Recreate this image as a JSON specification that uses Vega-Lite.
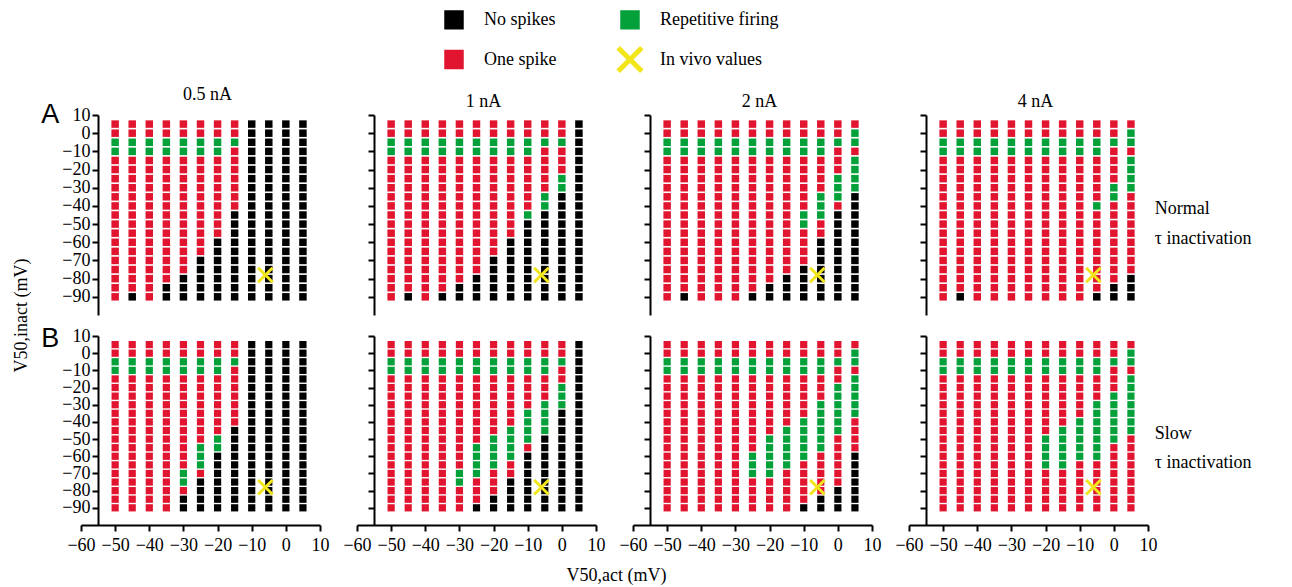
{
  "$schema": "https://vega.github.io/schema/vega-lite/v6.json",
  "background": "white",
  "padding": {"left": 12, "top": 9, "right": 5, "bottom": 5},
  "bounds": "flush",
  "columns": 4,
  "spacing": {"row": 21, "column": 37},
  "datasets": {
    "vivo": [{"x": -6, "y": -78, "s": "V"}],
    "grid": [
{"x":-50,"y":5,"a":"R","b":"R","c":"R","d":"R","e":"R","f":"R","g":"R","h":"R"},
{"x":-50,"y":0,"a":"R","b":"R","c":"R","d":"R","e":"R","f":"R","g":"R","h":"R"},
{"x":-50,"y":-5,"a":"G","b":"G","c":"G","d":"G","e":"G","f":"G","g":"G","h":"G"},
{"x":-50,"y":-10,"a":"G","b":"G","c":"G","d":"G","e":"G","f":"G","g":"G","h":"G"},
{"x":-50,"y":-15,"a":"R","b":"R","c":"R","d":"R","e":"R","f":"R","g":"R","h":"R"},
{"x":-50,"y":-20,"a":"R","b":"R","c":"R","d":"R","e":"R","f":"R","g":"R","h":"R"},
{"x":-50,"y":-25,"a":"R","b":"R","c":"R","d":"R","e":"R","f":"R","g":"R","h":"R"},
{"x":-50,"y":-30,"a":"R","b":"R","c":"R","d":"R","e":"R","f":"R","g":"R","h":"R"},
{"x":-50,"y":-35,"a":"R","b":"R","c":"R","d":"R","e":"R","f":"R","g":"R","h":"R"},
{"x":-50,"y":-40,"a":"R","b":"R","c":"R","d":"R","e":"R","f":"R","g":"R","h":"R"},
{"x":-50,"y":-45,"a":"R","b":"R","c":"R","d":"R","e":"R","f":"R","g":"R","h":"R"},
{"x":-50,"y":-50,"a":"R","b":"R","c":"R","d":"R","e":"R","f":"R","g":"R","h":"R"},
{"x":-50,"y":-55,"a":"R","b":"R","c":"R","d":"R","e":"R","f":"R","g":"R","h":"R"},
{"x":-50,"y":-60,"a":"R","b":"R","c":"R","d":"R","e":"R","f":"R","g":"R","h":"R"},
{"x":-50,"y":-65,"a":"R","b":"R","c":"R","d":"R","e":"R","f":"R","g":"R","h":"R"},
{"x":-50,"y":-70,"a":"R","b":"R","c":"R","d":"R","e":"R","f":"R","g":"R","h":"R"},
{"x":-50,"y":-75,"a":"R","b":"R","c":"R","d":"R","e":"R","f":"R","g":"R","h":"R"},
{"x":-50,"y":-80,"a":"R","b":"R","c":"R","d":"R","e":"R","f":"R","g":"R","h":"R"},
{"x":-50,"y":-85,"a":"R","b":"R","c":"R","d":"R","e":"R","f":"R","g":"R","h":"R"},
{"x":-50,"y":-90,"a":"R","b":"R","c":"R","d":"R","e":"R","f":"R","g":"R","h":"R"},
{"x":-45,"y":5,"a":"R","b":"R","c":"R","d":"R","e":"R","f":"R","g":"R","h":"R"},
{"x":-45,"y":0,"a":"R","b":"R","c":"R","d":"R","e":"R","f":"R","g":"R","h":"R"},
{"x":-45,"y":-5,"a":"G","b":"G","c":"G","d":"G","e":"G","f":"G","g":"G","h":"G"},
{"x":-45,"y":-10,"a":"G","b":"G","c":"G","d":"G","e":"G","f":"G","g":"G","h":"G"},
{"x":-45,"y":-15,"a":"R","b":"R","c":"R","d":"R","e":"R","f":"R","g":"R","h":"R"},
{"x":-45,"y":-20,"a":"R","b":"R","c":"R","d":"R","e":"R","f":"R","g":"R","h":"R"},
{"x":-45,"y":-25,"a":"R","b":"R","c":"R","d":"R","e":"R","f":"R","g":"R","h":"R"},
{"x":-45,"y":-30,"a":"R","b":"R","c":"R","d":"R","e":"R","f":"R","g":"R","h":"R"},
{"x":-45,"y":-35,"a":"R","b":"R","c":"R","d":"R","e":"R","f":"R","g":"R","h":"R"},
{"x":-45,"y":-40,"a":"R","b":"R","c":"R","d":"R","e":"R","f":"R","g":"R","h":"R"},
{"x":-45,"y":-45,"a":"R","b":"R","c":"R","d":"R","e":"R","f":"R","g":"R","h":"R"},
{"x":-45,"y":-50,"a":"R","b":"R","c":"R","d":"R","e":"R","f":"R","g":"R","h":"R"},
{"x":-45,"y":-55,"a":"R","b":"R","c":"R","d":"R","e":"R","f":"R","g":"R","h":"R"},
{"x":-45,"y":-60,"a":"R","b":"R","c":"R","d":"R","e":"R","f":"R","g":"R","h":"R"},
{"x":-45,"y":-65,"a":"R","b":"R","c":"R","d":"R","e":"R","f":"R","g":"R","h":"R"},
{"x":-45,"y":-70,"a":"R","b":"R","c":"R","d":"R","e":"R","f":"R","g":"R","h":"R"},
{"x":-45,"y":-75,"a":"R","b":"R","c":"R","d":"R","e":"R","f":"R","g":"R","h":"R"},
{"x":-45,"y":-80,"a":"R","b":"R","c":"R","d":"R","e":"R","f":"R","g":"R","h":"R"},
{"x":-45,"y":-85,"a":"R","b":"R","c":"R","d":"R","e":"R","f":"R","g":"R","h":"R"},
{"x":-45,"y":-90,"a":"N","b":"N","c":"N","d":"N","e":"R","f":"R","g":"R","h":"R"},
{"x":-40,"y":5,"a":"R","b":"R","c":"R","d":"R","e":"R","f":"R","g":"R","h":"R"},
{"x":-40,"y":0,"a":"R","b":"R","c":"R","d":"R","e":"R","f":"R","g":"R","h":"R"},
{"x":-40,"y":-5,"a":"G","b":"G","c":"G","d":"G","e":"G","f":"G","g":"G","h":"G"},
{"x":-40,"y":-10,"a":"G","b":"G","c":"G","d":"G","e":"G","f":"G","g":"G","h":"G"},
{"x":-40,"y":-15,"a":"R","b":"R","c":"R","d":"R","e":"R","f":"R","g":"R","h":"R"},
{"x":-40,"y":-20,"a":"R","b":"R","c":"R","d":"R","e":"R","f":"R","g":"R","h":"R"},
{"x":-40,"y":-25,"a":"R","b":"R","c":"R","d":"R","e":"R","f":"R","g":"R","h":"R"},
{"x":-40,"y":-30,"a":"R","b":"R","c":"R","d":"R","e":"R","f":"R","g":"R","h":"R"},
{"x":-40,"y":-35,"a":"R","b":"R","c":"R","d":"R","e":"R","f":"R","g":"R","h":"R"},
{"x":-40,"y":-40,"a":"R","b":"R","c":"R","d":"R","e":"R","f":"R","g":"R","h":"R"},
{"x":-40,"y":-45,"a":"R","b":"R","c":"R","d":"R","e":"R","f":"R","g":"R","h":"R"},
{"x":-40,"y":-50,"a":"R","b":"R","c":"R","d":"R","e":"R","f":"R","g":"R","h":"R"},
{"x":-40,"y":-55,"a":"R","b":"R","c":"R","d":"R","e":"R","f":"R","g":"R","h":"R"},
{"x":-40,"y":-60,"a":"R","b":"R","c":"R","d":"R","e":"R","f":"R","g":"R","h":"R"},
{"x":-40,"y":-65,"a":"R","b":"R","c":"R","d":"R","e":"R","f":"R","g":"R","h":"R"},
{"x":-40,"y":-70,"a":"R","b":"R","c":"R","d":"R","e":"R","f":"R","g":"R","h":"R"},
{"x":-40,"y":-75,"a":"R","b":"R","c":"R","d":"R","e":"R","f":"R","g":"R","h":"R"},
{"x":-40,"y":-80,"a":"R","b":"R","c":"R","d":"R","e":"R","f":"R","g":"R","h":"R"},
{"x":-40,"y":-85,"a":"R","b":"R","c":"R","d":"R","e":"R","f":"R","g":"R","h":"R"},
{"x":-40,"y":-90,"a":"R","b":"R","c":"R","d":"R","e":"R","f":"R","g":"R","h":"R"},
{"x":-35,"y":5,"a":"R","b":"R","c":"R","d":"R","e":"R","f":"R","g":"R","h":"R"},
{"x":-35,"y":0,"a":"R","b":"R","c":"R","d":"R","e":"R","f":"R","g":"R","h":"R"},
{"x":-35,"y":-5,"a":"G","b":"G","c":"G","d":"G","e":"G","f":"G","g":"G","h":"G"},
{"x":-35,"y":-10,"a":"G","b":"G","c":"G","d":"G","e":"G","f":"G","g":"G","h":"G"},
{"x":-35,"y":-15,"a":"R","b":"R","c":"R","d":"R","e":"R","f":"R","g":"R","h":"R"},
{"x":-35,"y":-20,"a":"R","b":"R","c":"R","d":"R","e":"R","f":"R","g":"R","h":"R"},
{"x":-35,"y":-25,"a":"R","b":"R","c":"R","d":"R","e":"R","f":"R","g":"R","h":"R"},
{"x":-35,"y":-30,"a":"R","b":"R","c":"R","d":"R","e":"R","f":"R","g":"R","h":"R"},
{"x":-35,"y":-35,"a":"R","b":"R","c":"R","d":"R","e":"R","f":"R","g":"R","h":"R"},
{"x":-35,"y":-40,"a":"R","b":"R","c":"R","d":"R","e":"R","f":"R","g":"R","h":"R"},
{"x":-35,"y":-45,"a":"R","b":"R","c":"R","d":"R","e":"R","f":"R","g":"R","h":"R"},
{"x":-35,"y":-50,"a":"R","b":"R","c":"R","d":"R","e":"R","f":"R","g":"R","h":"R"},
{"x":-35,"y":-55,"a":"R","b":"R","c":"R","d":"R","e":"R","f":"R","g":"R","h":"R"},
{"x":-35,"y":-60,"a":"R","b":"R","c":"R","d":"R","e":"R","f":"R","g":"R","h":"R"},
{"x":-35,"y":-65,"a":"R","b":"R","c":"R","d":"R","e":"R","f":"R","g":"R","h":"R"},
{"x":-35,"y":-70,"a":"R","b":"R","c":"R","d":"R","e":"R","f":"R","g":"R","h":"R"},
{"x":-35,"y":-75,"a":"R","b":"R","c":"R","d":"R","e":"R","f":"R","g":"R","h":"R"},
{"x":-35,"y":-80,"a":"R","b":"R","c":"R","d":"R","e":"R","f":"R","g":"R","h":"R"},
{"x":-35,"y":-85,"a":"N","b":"R","c":"R","d":"R","e":"R","f":"R","g":"R","h":"R"},
{"x":-35,"y":-90,"a":"N","b":"N","c":"R","d":"R","e":"R","f":"R","g":"R","h":"R"},
{"x":-30,"y":5,"a":"R","b":"R","c":"R","d":"R","e":"R","f":"R","g":"R","h":"R"},
{"x":-30,"y":0,"a":"R","b":"R","c":"R","d":"R","e":"R","f":"R","g":"R","h":"R"},
{"x":-30,"y":-5,"a":"G","b":"G","c":"G","d":"G","e":"G","f":"G","g":"G","h":"G"},
{"x":-30,"y":-10,"a":"G","b":"G","c":"G","d":"G","e":"G","f":"G","g":"G","h":"G"},
{"x":-30,"y":-15,"a":"R","b":"R","c":"R","d":"R","e":"R","f":"R","g":"R","h":"R"},
{"x":-30,"y":-20,"a":"R","b":"R","c":"R","d":"R","e":"R","f":"R","g":"R","h":"R"},
{"x":-30,"y":-25,"a":"R","b":"R","c":"R","d":"R","e":"R","f":"R","g":"R","h":"R"},
{"x":-30,"y":-30,"a":"R","b":"R","c":"R","d":"R","e":"R","f":"R","g":"R","h":"R"},
{"x":-30,"y":-35,"a":"R","b":"R","c":"R","d":"R","e":"R","f":"R","g":"R","h":"R"},
{"x":-30,"y":-40,"a":"R","b":"R","c":"R","d":"R","e":"R","f":"R","g":"R","h":"R"},
{"x":-30,"y":-45,"a":"R","b":"R","c":"R","d":"R","e":"R","f":"R","g":"R","h":"R"},
{"x":-30,"y":-50,"a":"R","b":"R","c":"R","d":"R","e":"R","f":"R","g":"R","h":"R"},
{"x":-30,"y":-55,"a":"R","b":"R","c":"R","d":"R","e":"R","f":"R","g":"R","h":"R"},
{"x":-30,"y":-60,"a":"R","b":"R","c":"R","d":"R","e":"R","f":"R","g":"R","h":"R"},
{"x":-30,"y":-65,"a":"R","b":"R","c":"R","d":"R","e":"R","f":"R","g":"R","h":"R"},
{"x":-30,"y":-70,"a":"R","b":"R","c":"R","d":"R","e":"G","f":"G","g":"R","h":"R"},
{"x":-30,"y":-75,"a":"R","b":"R","c":"R","d":"R","e":"G","f":"G","g":"R","h":"R"},
{"x":-30,"y":-80,"a":"N","b":"R","c":"R","d":"R","e":"R","f":"R","g":"R","h":"R"},
{"x":-30,"y":-85,"a":"N","b":"N","c":"R","d":"R","e":"N","f":"R","g":"R","h":"R"},
{"x":-30,"y":-90,"a":"N","b":"N","c":"R","d":"R","e":"N","f":"R","g":"R","h":"R"},
{"x":-25,"y":5,"a":"R","b":"R","c":"R","d":"R","e":"R","f":"R","g":"R","h":"R"},
{"x":-25,"y":0,"a":"R","b":"R","c":"R","d":"R","e":"R","f":"R","g":"R","h":"R"},
{"x":-25,"y":-5,"a":"G","b":"G","c":"G","d":"G","e":"G","f":"G","g":"G","h":"G"},
{"x":-25,"y":-10,"a":"G","b":"G","c":"G","d":"G","e":"G","f":"G","g":"G","h":"G"},
{"x":-25,"y":-15,"a":"R","b":"R","c":"R","d":"R","e":"R","f":"R","g":"R","h":"R"},
{"x":-25,"y":-20,"a":"R","b":"R","c":"R","d":"R","e":"R","f":"R","g":"R","h":"R"},
{"x":-25,"y":-25,"a":"R","b":"R","c":"R","d":"R","e":"R","f":"R","g":"R","h":"R"},
{"x":-25,"y":-30,"a":"R","b":"R","c":"R","d":"R","e":"R","f":"R","g":"R","h":"R"},
{"x":-25,"y":-35,"a":"R","b":"R","c":"R","d":"R","e":"R","f":"R","g":"R","h":"R"},
{"x":-25,"y":-40,"a":"R","b":"R","c":"R","d":"R","e":"R","f":"R","g":"R","h":"R"},
{"x":-25,"y":-45,"a":"R","b":"R","c":"R","d":"R","e":"R","f":"R","g":"R","h":"R"},
{"x":-25,"y":-50,"a":"R","b":"R","c":"R","d":"R","e":"R","f":"R","g":"R","h":"R"},
{"x":-25,"y":-55,"a":"R","b":"R","c":"R","d":"R","e":"G","f":"G","g":"R","h":"R"},
{"x":-25,"y":-60,"a":"R","b":"R","c":"R","d":"R","e":"G","f":"G","g":"G","h":"R"},
{"x":-25,"y":-65,"a":"R","b":"R","c":"R","d":"R","e":"G","f":"G","g":"G","h":"R"},
{"x":-25,"y":-70,"a":"N","b":"R","c":"R","d":"R","e":"R","f":"G","g":"G","h":"R"},
{"x":-25,"y":-75,"a":"N","b":"R","c":"R","d":"R","e":"N","f":"R","g":"R","h":"R"},
{"x":-25,"y":-80,"a":"N","b":"N","c":"R","d":"R","e":"N","f":"R","g":"R","h":"R"},
{"x":-25,"y":-85,"a":"N","b":"N","c":"R","d":"R","e":"N","f":"R","g":"R","h":"R"},
{"x":-25,"y":-90,"a":"N","b":"N","c":"N","d":"R","e":"N","f":"N","g":"R","h":"R"},
{"x":-20,"y":5,"a":"R","b":"R","c":"R","d":"R","e":"R","f":"R","g":"R","h":"R"},
{"x":-20,"y":0,"a":"R","b":"R","c":"R","d":"R","e":"R","f":"R","g":"R","h":"R"},
{"x":-20,"y":-5,"a":"G","b":"G","c":"G","d":"G","e":"G","f":"G","g":"G","h":"G"},
{"x":-20,"y":-10,"a":"G","b":"G","c":"G","d":"G","e":"G","f":"G","g":"G","h":"G"},
{"x":-20,"y":-15,"a":"R","b":"R","c":"R","d":"R","e":"R","f":"R","g":"R","h":"R"},
{"x":-20,"y":-20,"a":"R","b":"R","c":"R","d":"R","e":"R","f":"R","g":"R","h":"R"},
{"x":-20,"y":-25,"a":"R","b":"R","c":"R","d":"R","e":"R","f":"R","g":"R","h":"R"},
{"x":-20,"y":-30,"a":"R","b":"R","c":"R","d":"R","e":"R","f":"R","g":"R","h":"R"},
{"x":-20,"y":-35,"a":"R","b":"R","c":"R","d":"R","e":"R","f":"R","g":"R","h":"R"},
{"x":-20,"y":-40,"a":"R","b":"R","c":"R","d":"R","e":"R","f":"R","g":"R","h":"R"},
{"x":-20,"y":-45,"a":"R","b":"R","c":"R","d":"R","e":"R","f":"R","g":"R","h":"R"},
{"x":-20,"y":-50,"a":"R","b":"R","c":"R","d":"R","e":"G","f":"G","g":"G","h":"G"},
{"x":-20,"y":-55,"a":"R","b":"R","c":"R","d":"R","e":"G","f":"G","g":"G","h":"G"},
{"x":-20,"y":-60,"a":"N","b":"R","c":"R","d":"R","e":"N","f":"G","g":"G","h":"G"},
{"x":-20,"y":-65,"a":"N","b":"R","c":"R","d":"R","e":"N","f":"G","g":"G","h":"G"},
{"x":-20,"y":-70,"a":"N","b":"N","c":"R","d":"R","e":"N","f":"R","g":"G","h":"R"},
{"x":-20,"y":-75,"a":"N","b":"N","c":"R","d":"R","e":"N","f":"R","g":"R","h":"R"},
{"x":-20,"y":-80,"a":"N","b":"N","c":"R","d":"R","e":"N","f":"R","g":"R","h":"R"},
{"x":-20,"y":-85,"a":"N","b":"N","c":"N","d":"R","e":"N","f":"N","g":"R","h":"R"},
{"x":-20,"y":-90,"a":"N","b":"N","c":"N","d":"R","e":"N","f":"N","g":"R","h":"R"},
{"x":-15,"y":5,"a":"R","b":"R","c":"R","d":"R","e":"R","f":"R","g":"R","h":"R"},
{"x":-15,"y":0,"a":"R","b":"R","c":"R","d":"R","e":"R","f":"R","g":"R","h":"R"},
{"x":-15,"y":-5,"a":"G","b":"G","c":"G","d":"G","e":"G","f":"G","g":"G","h":"G"},
{"x":-15,"y":-10,"a":"R","b":"G","c":"G","d":"G","e":"R","f":"G","g":"G","h":"G"},
{"x":-15,"y":-15,"a":"R","b":"R","c":"R","d":"R","e":"R","f":"R","g":"R","h":"R"},
{"x":-15,"y":-20,"a":"R","b":"R","c":"R","d":"R","e":"R","f":"R","g":"R","h":"R"},
{"x":-15,"y":-25,"a":"R","b":"R","c":"R","d":"R","e":"R","f":"R","g":"R","h":"R"},
{"x":-15,"y":-30,"a":"R","b":"R","c":"R","d":"R","e":"R","f":"R","g":"R","h":"R"},
{"x":-15,"y":-35,"a":"R","b":"R","c":"R","d":"R","e":"R","f":"R","g":"R","h":"R"},
{"x":-15,"y":-40,"a":"R","b":"R","c":"R","d":"R","e":"R","f":"R","g":"R","h":"R"},
{"x":-15,"y":-45,"a":"N","b":"R","c":"R","d":"R","e":"N","f":"G","g":"G","h":"G"},
{"x":-15,"y":-50,"a":"N","b":"R","c":"R","d":"R","e":"N","f":"G","g":"G","h":"G"},
{"x":-15,"y":-55,"a":"N","b":"R","c":"R","d":"R","e":"N","f":"G","g":"G","h":"G"},
{"x":-15,"y":-60,"a":"N","b":"N","c":"R","d":"R","e":"N","f":"G","g":"G","h":"G"},
{"x":-15,"y":-65,"a":"N","b":"N","c":"R","d":"R","e":"N","f":"R","g":"G","h":"G"},
{"x":-15,"y":-70,"a":"N","b":"N","c":"R","d":"R","e":"N","f":"R","g":"R","h":"R"},
{"x":-15,"y":-75,"a":"N","b":"N","c":"R","d":"R","e":"N","f":"N","g":"R","h":"R"},
{"x":-15,"y":-80,"a":"N","b":"N","c":"N","d":"R","e":"N","f":"N","g":"R","h":"R"},
{"x":-15,"y":-85,"a":"N","b":"N","c":"N","d":"R","e":"N","f":"N","g":"R","h":"R"},
{"x":-15,"y":-90,"a":"N","b":"N","c":"N","d":"R","e":"N","f":"N","g":"R","h":"R"},
{"x":-10,"y":5,"a":"N","b":"R","c":"R","d":"R","e":"N","f":"R","g":"R","h":"R"},
{"x":-10,"y":0,"a":"N","b":"R","c":"R","d":"R","e":"N","f":"R","g":"R","h":"R"},
{"x":-10,"y":-5,"a":"N","b":"G","c":"G","d":"G","e":"N","f":"G","g":"G","h":"G"},
{"x":-10,"y":-10,"a":"N","b":"G","c":"G","d":"G","e":"N","f":"G","g":"G","h":"G"},
{"x":-10,"y":-15,"a":"N","b":"R","c":"R","d":"R","e":"N","f":"R","g":"R","h":"R"},
{"x":-10,"y":-20,"a":"N","b":"R","c":"R","d":"R","e":"N","f":"R","g":"R","h":"R"},
{"x":-10,"y":-25,"a":"N","b":"R","c":"R","d":"R","e":"N","f":"R","g":"R","h":"R"},
{"x":-10,"y":-30,"a":"N","b":"R","c":"R","d":"R","e":"N","f":"R","g":"R","h":"R"},
{"x":-10,"y":-35,"a":"N","b":"R","c":"R","d":"R","e":"N","f":"G","g":"R","h":"R"},
{"x":-10,"y":-40,"a":"N","b":"R","c":"R","d":"R","e":"N","f":"G","g":"G","h":"G"},
{"x":-10,"y":-45,"a":"N","b":"G","c":"G","d":"R","e":"N","f":"G","g":"G","h":"G"},
{"x":-10,"y":-50,"a":"N","b":"N","c":"G","d":"R","e":"N","f":"G","g":"G","h":"G"},
{"x":-10,"y":-55,"a":"N","b":"N","c":"R","d":"R","e":"N","f":"R","g":"G","h":"G"},
{"x":-10,"y":-60,"a":"N","b":"N","c":"R","d":"R","e":"N","f":"N","g":"G","h":"G"},
{"x":-10,"y":-65,"a":"N","b":"N","c":"R","d":"R","e":"N","f":"N","g":"R","h":"R"},
{"x":-10,"y":-70,"a":"N","b":"N","c":"R","d":"R","e":"N","f":"N","g":"R","h":"R"},
{"x":-10,"y":-75,"a":"N","b":"N","c":"N","d":"R","e":"N","f":"N","g":"R","h":"R"},
{"x":-10,"y":-80,"a":"N","b":"N","c":"N","d":"R","e":"N","f":"N","g":"R","h":"R"},
{"x":-10,"y":-85,"a":"N","b":"N","c":"N","d":"R","e":"N","f":"N","g":"R","h":"R"},
{"x":-10,"y":-90,"a":"N","b":"N","c":"N","d":"R","e":"N","f":"N","g":"N","h":"R"},
{"x":-5,"y":5,"a":"N","b":"R","c":"R","d":"R","e":"N","f":"R","g":"R","h":"R"},
{"x":-5,"y":0,"a":"N","b":"R","c":"R","d":"R","e":"N","f":"R","g":"R","h":"R"},
{"x":-5,"y":-5,"a":"N","b":"G","c":"G","d":"G","e":"N","f":"G","g":"G","h":"G"},
{"x":-5,"y":-10,"a":"N","b":"R","c":"G","d":"G","e":"N","f":"G","g":"G","h":"G"},
{"x":-5,"y":-15,"a":"N","b":"R","c":"R","d":"R","e":"N","f":"R","g":"R","h":"R"},
{"x":-5,"y":-20,"a":"N","b":"R","c":"R","d":"R","e":"N","f":"R","g":"R","h":"R"},
{"x":-5,"y":-25,"a":"N","b":"R","c":"R","d":"R","e":"N","f":"R","g":"R","h":"R"},
{"x":-5,"y":-30,"a":"N","b":"R","c":"R","d":"R","e":"N","f":"G","g":"G","h":"G"},
{"x":-5,"y":-35,"a":"N","b":"G","c":"G","d":"R","e":"N","f":"G","g":"G","h":"G"},
{"x":-5,"y":-40,"a":"N","b":"G","c":"G","d":"G","e":"N","f":"G","g":"G","h":"G"},
{"x":-5,"y":-45,"a":"N","b":"N","c":"G","d":"R","e":"N","f":"G","g":"G","h":"G"},
{"x":-5,"y":-50,"a":"N","b":"N","c":"R","d":"R","e":"N","f":"N","g":"G","h":"G"},
{"x":-5,"y":-55,"a":"N","b":"N","c":"R","d":"R","e":"N","f":"N","g":"G","h":"G"},
{"x":-5,"y":-60,"a":"N","b":"N","c":"N","d":"R","e":"N","f":"N","g":"R","h":"G"},
{"x":-5,"y":-65,"a":"N","b":"N","c":"N","d":"R","e":"N","f":"N","g":"R","h":"R"},
{"x":-5,"y":-70,"a":"N","b":"N","c":"N","d":"R","e":"N","f":"N","g":"R","h":"R"},
{"x":-5,"y":-75,"a":"N","b":"N","c":"N","d":"R","e":"N","f":"N","g":"R","h":"R"},
{"x":-5,"y":-80,"a":"N","b":"N","c":"N","d":"R","e":"N","f":"N","g":"R","h":"R"},
{"x":-5,"y":-85,"a":"N","b":"N","c":"N","d":"R","e":"N","f":"N","g":"N","h":"R"},
{"x":-5,"y":-90,"a":"N","b":"N","c":"N","d":"N","e":"N","f":"N","g":"N","h":"R"},
{"x":0,"y":5,"a":"N","b":"R","c":"R","d":"R","e":"N","f":"R","g":"R","h":"R"},
{"x":0,"y":0,"a":"N","b":"R","c":"R","d":"R","e":"N","f":"R","g":"R","h":"R"},
{"x":0,"y":-5,"a":"N","b":"G","c":"G","d":"G","e":"N","f":"G","g":"G","h":"G"},
{"x":0,"y":-10,"a":"N","b":"R","c":"R","d":"R","e":"N","f":"R","g":"R","h":"R"},
{"x":0,"y":-15,"a":"N","b":"R","c":"R","d":"R","e":"N","f":"R","g":"R","h":"R"},
{"x":0,"y":-20,"a":"N","b":"R","c":"R","d":"R","e":"N","f":"G","g":"G","h":"R"},
{"x":0,"y":-25,"a":"N","b":"G","c":"G","d":"R","e":"N","f":"G","g":"G","h":"G"},
{"x":0,"y":-30,"a":"N","b":"G","c":"G","d":"G","e":"N","f":"G","g":"G","h":"G"},
{"x":0,"y":-35,"a":"N","b":"N","c":"G","d":"G","e":"N","f":"N","g":"G","h":"G"},
{"x":0,"y":-40,"a":"N","b":"N","c":"R","d":"R","e":"N","f":"N","g":"G","h":"G"},
{"x":0,"y":-45,"a":"N","b":"N","c":"N","d":"R","e":"N","f":"N","g":"G","h":"G"},
{"x":0,"y":-50,"a":"N","b":"N","c":"N","d":"R","e":"N","f":"N","g":"R","h":"G"},
{"x":0,"y":-55,"a":"N","b":"N","c":"N","d":"R","e":"N","f":"N","g":"R","h":"R"},
{"x":0,"y":-60,"a":"N","b":"N","c":"N","d":"R","e":"N","f":"N","g":"R","h":"R"},
{"x":0,"y":-65,"a":"N","b":"N","c":"N","d":"R","e":"N","f":"N","g":"R","h":"R"},
{"x":0,"y":-70,"a":"N","b":"N","c":"N","d":"R","e":"N","f":"N","g":"R","h":"R"},
{"x":0,"y":-75,"a":"N","b":"N","c":"N","d":"R","e":"N","f":"N","g":"R","h":"R"},
{"x":0,"y":-80,"a":"N","b":"N","c":"N","d":"R","e":"N","f":"N","g":"N","h":"R"},
{"x":0,"y":-85,"a":"N","b":"N","c":"N","d":"N","e":"N","f":"N","g":"N","h":"R"},
{"x":0,"y":-90,"a":"N","b":"N","c":"N","d":"N","e":"N","f":"N","g":"N","h":"R"},
{"x":5,"y":5,"a":"N","b":"N","c":"R","d":"R","e":"N","f":"N","g":"R","h":"R"},
{"x":5,"y":0,"a":"N","b":"N","c":"G","d":"G","e":"N","f":"N","g":"G","h":"G"},
{"x":5,"y":-5,"a":"N","b":"N","c":"G","d":"G","e":"N","f":"N","g":"G","h":"G"},
{"x":5,"y":-10,"a":"N","b":"N","c":"R","d":"R","e":"N","f":"N","g":"R","h":"R"},
{"x":5,"y":-15,"a":"N","b":"N","c":"G","d":"G","e":"N","f":"N","g":"G","h":"G"},
{"x":5,"y":-20,"a":"N","b":"N","c":"G","d":"G","e":"N","f":"N","g":"G","h":"G"},
{"x":5,"y":-25,"a":"N","b":"N","c":"G","d":"G","e":"N","f":"N","g":"G","h":"G"},
{"x":5,"y":-30,"a":"N","b":"N","c":"G","d":"G","e":"N","f":"N","g":"G","h":"G"},
{"x":5,"y":-35,"a":"N","b":"N","c":"N","d":"R","e":"N","f":"N","g":"G","h":"G"},
{"x":5,"y":-40,"a":"N","b":"N","c":"N","d":"R","e":"N","f":"N","g":"R","h":"G"},
{"x":5,"y":-45,"a":"N","b":"N","c":"N","d":"R","e":"N","f":"N","g":"R","h":"G"},
{"x":5,"y":-50,"a":"N","b":"N","c":"N","d":"R","e":"N","f":"N","g":"R","h":"R"},
{"x":5,"y":-55,"a":"N","b":"N","c":"N","d":"R","e":"N","f":"N","g":"R","h":"R"},
{"x":5,"y":-60,"a":"N","b":"N","c":"N","d":"R","e":"N","f":"N","g":"N","h":"R"},
{"x":5,"y":-65,"a":"N","b":"N","c":"N","d":"R","e":"N","f":"N","g":"N","h":"R"},
{"x":5,"y":-70,"a":"N","b":"N","c":"N","d":"R","e":"N","f":"N","g":"N","h":"R"},
{"x":5,"y":-75,"a":"N","b":"N","c":"N","d":"R","e":"N","f":"N","g":"N","h":"R"},
{"x":5,"y":-80,"a":"N","b":"N","c":"N","d":"N","e":"N","f":"N","g":"N","h":"R"},
{"x":5,"y":-85,"a":"N","b":"N","c":"N","d":"N","e":"N","f":"N","g":"N","h":"R"},
{"x":5,"y":-90,"a":"N","b":"N","c":"N","d":"N","e":"N","f":"N","g":"N","h":"R"}
    ]
  },
  "concat": [
    {
      "width": 239, "height": 200,
      "title": {"text": "0.5 nA", "frame": "group", "dx": 7, "offset": -3},
      "layer": [
        {
          "encoding": {
            "x": {"field": "x", "type": "quantitative", "scale": {"domain": [-60, 10]}, "axis": null},
            "y": {"field": "y", "type": "quantitative", "scale": {"domain": [-100, 10]}, "axis": {"values": [-90, -80, -70, -60, -50, -40, -30, -20, -10, 0, 10], "offset": -17, "labelFlush": false, "labelOverlap": false, "title": "V50,inact (mV)", "titleX": -77, "titleY": 200, "titleAngle": 270, "titleBaseline": "middle", "titleAlign": "center"}}
          },
          "layer": [
            {"data": {"name": "grid"}, "mark": {"type": "square", "size": 56, "opacity": 1},
             "encoding": {"color": {"field": "a", "type": "nominal", "scale": {"domain": ["N", "G", "R", "V"], "range": ["#000000", "#04a13b", "#e1152f", "#f2e51a"]},
               "legend": {"orient": "none", "legendX": 363, "legendY": -105.5, "columns": 2, "direction": "horizontal", "title": null,
                 "labelExpr": "datum.label == 'N' ? 'No spikes' : datum.label == 'G' ? 'Repetitive firing' : datum.label == 'R' ? 'One spike' : 'In vivo values'",
                 "labelFontSize": 18, "labelFont": "Liberation Serif", "labelColor": "black", "symbolSize": 210, "rowPadding": 0, "columnPadding": 51, "labelOffset": 20, "padding": 0,
                 "encoding": {"symbols": {
                   "shape": {"value": {"expr": "datum.value === 'V' ? 'M-1,-1L1,1M1,-1L-1,1' : 'square'"}},
                   "size": {"value": {"expr": "datum.value === 'V' ? 560 : 210"}},
                   "fill": {"value": {"expr": "datum.value === 'V' ? 'transparent' : scale('color', datum.value)"}},
                   "stroke": {"value": {"expr": "datum.value === 'V' ? '#f2e51a' : 'transparent'"}},
                   "strokeWidth": {"value": 5},
                   "opacity": {"value": 1}}}}}}},
            {"data": {"name": "vivo"}, "mark": {"type": "point", "shape": "M-1,-1L1,1M1,-1L-1,1", "size": 210, "strokeWidth": 3, "filled": false, "opacity": 1},
             "encoding": {"color": {"field": "s", "type": "nominal", "legend": null}}}
          ]
        },
        {"data": {"values": [{"t": "A"}]}, "mark": {"type": "text", "font": "Liberation Sans", "fontSize": 27, "align": "center", "baseline": "middle", "color": "black"},
         "encoding": {
           "x": {"datum": -69, "type": "quantitative", "scale": {"domain": [-60, 10]}, "axis": null},
           "y": {"datum": 10, "type": "quantitative", "scale": {"domain": [-100, 10]}, "axis": {"values": [-90, -80, -70, -60, -50, -40, -30, -20, -10, 0, 10], "offset": -17, "labelFlush": false, "labelOverlap": false, "title": "V50,inact (mV)", "titleX": -77, "titleY": 200, "titleAngle": 270, "titleBaseline": "middle", "titleAlign": "center"}},
           "text": {"field": "t", "type": "nominal"}}}
      ]
    },
    {
      "width": 239, "height": 200,
      "title": {"text": "1 nA", "frame": "group", "dx": 7, "offset": 3},
      "encoding": {
        "x": {"field": "x", "type": "quantitative", "scale": {"domain": [-60, 10]}, "axis": null},
        "y": {"field": "y", "type": "quantitative", "scale": {"domain": [-100, 10]}, "axis": {"values": [-90, -80, -70, -60, -50, -40, -30, -20, -10, 0, 10], "offset": -17, "labels": false, "title": null}}
      },
      "layer": [
        {"data": {"name": "grid"}, "mark": {"type": "square", "size": 56, "opacity": 1},
         "encoding": {"color": {"field": "b", "type": "nominal", "legend": null}}},
        {"data": {"name": "vivo"}, "mark": {"type": "point", "shape": "M-1,-1L1,1M1,-1L-1,1", "size": 210, "strokeWidth": 3, "filled": false, "opacity": 1},
         "encoding": {"color": {"field": "s", "type": "nominal", "legend": null}}}
      ]
    },
    {
      "width": 239, "height": 200,
      "title": {"text": "2 nA", "frame": "group", "dx": 7, "offset": 3},
      "encoding": {
        "x": {"field": "x", "type": "quantitative", "scale": {"domain": [-60, 10]}, "axis": null},
        "y": {"field": "y", "type": "quantitative", "scale": {"domain": [-100, 10]}, "axis": {"values": [-90, -80, -70, -60, -50, -40, -30, -20, -10, 0, 10], "offset": -17, "labels": false, "title": null}}
      },
      "layer": [
        {"data": {"name": "grid"}, "mark": {"type": "square", "size": 56, "opacity": 1},
         "encoding": {"color": {"field": "c", "type": "nominal", "legend": null}}},
        {"data": {"name": "vivo"}, "mark": {"type": "point", "shape": "M-1,-1L1,1M1,-1L-1,1", "size": 210, "strokeWidth": 3, "filled": false, "opacity": 1},
         "encoding": {"color": {"field": "s", "type": "nominal", "legend": null}}}
      ]
    },
    {
      "width": 239, "height": 200,
      "title": {"text": "4 nA", "frame": "group", "dx": 7, "offset": 3},
      "layer": [
        {
          "encoding": {
            "x": {"field": "x", "type": "quantitative", "scale": {"domain": [-60, 10]}, "axis": null},
            "y": {"field": "y", "type": "quantitative", "scale": {"domain": [-100, 10]}, "axis": {"values": [-90, -80, -70, -60, -50, -40, -30, -20, -10, 0, 10], "offset": -17, "labels": false, "title": null}}
          },
          "layer": [
            {"data": {"name": "grid"}, "mark": {"type": "square", "size": 56, "opacity": 1},
             "encoding": {"color": {"field": "d", "type": "nominal", "legend": null}}},
            {"data": {"name": "vivo"}, "mark": {"type": "point", "shape": "M-1,-1L1,1M1,-1L-1,1", "size": 210, "strokeWidth": 3, "filled": false, "opacity": 1},
             "encoding": {"color": {"field": "s", "type": "nominal", "legend": null}}}
          ]
        },
        {"data": {"values": [{"t": ["Normal", "τ inactivation"]}]}, "mark": {"type": "text", "font": "Liberation Serif", "fontSize": 18, "align": "left", "baseline": "middle", "lineHeight": 30, "color": "black"},
         "encoding": {
           "x": {"datum": 12, "type": "quantitative", "scale": {"domain": [-60, 10]}, "axis": null},
           "y": {"datum": -41.5, "type": "quantitative", "scale": {"domain": [-100, 10]}, "axis": {"values": [-90, -80, -70, -60, -50, -40, -30, -20, -10, 0, 10], "offset": -17, "labels": false, "title": null}},
           "text": {"field": "t", "type": "nominal"}}}
      ]
    },
    {
      "width": 239, "height": 189,
      "layer": [
        {
          "encoding": {
            "x": {"field": "x", "type": "quantitative", "scale": {"domain": [-60, 10]}, "axis": {"values": [-60, -50, -40, -30, -20, -10, 0, 10], "title": null, "labelOverlap": false, "labelFlush": false, "labelPadding": 5}},
            "y": {"field": "y", "type": "quantitative", "scale": {"domain": [-100, 10]}, "axis": {"values": [-90, -80, -70, -60, -50, -40, -30, -20, -10, 0, 10], "offset": -17, "title": null, "labelOverlap": false, "labelFlush": false}}
          },
          "layer": [
            {"data": {"name": "grid"}, "mark": {"type": "square", "size": 52, "opacity": 1},
             "encoding": {"color": {"field": "e", "type": "nominal", "legend": null}}},
            {"data": {"name": "vivo"}, "mark": {"type": "point", "shape": "M-1,-1L1,1M1,-1L-1,1", "size": 210, "strokeWidth": 3, "filled": false, "opacity": 1},
             "encoding": {"color": {"field": "s", "type": "nominal", "legend": null}}}
          ]
        },
        {"data": {"values": [{"t": "B"}]}, "mark": {"type": "text", "font": "Liberation Sans", "fontSize": 27, "align": "center", "baseline": "middle", "color": "black"},
         "encoding": {
           "x": {"datum": -69, "type": "quantitative", "scale": {"domain": [-60, 10]}, "axis": {"values": [-60, -50, -40, -30, -20, -10, 0, 10], "title": null, "labelOverlap": false, "labelFlush": false, "labelPadding": 5}},
           "y": {"datum": 8, "type": "quantitative", "scale": {"domain": [-100, 10]}, "axis": {"values": [-90, -80, -70, -60, -50, -40, -30, -20, -10, 0, 10], "offset": -17, "title": null, "labelOverlap": false, "labelFlush": false}},
           "text": {"field": "t", "type": "nominal"}}}
      ]
    },
    {
      "width": 239, "height": 189,
      "encoding": {
        "x": {"field": "x", "type": "quantitative", "scale": {"domain": [-60, 10]}, "axis": {"values": [-60, -50, -40, -30, -20, -10, 0, 10], "labelOverlap": false, "labelFlush": false, "labelPadding": 5, "title": "V50,act (mV)", "titleX": 259, "titleY": 50, "titleBaseline": "middle", "titleAlign": "center"}},
        "y": {"field": "y", "type": "quantitative", "scale": {"domain": [-100, 10]}, "axis": {"values": [-90, -80, -70, -60, -50, -40, -30, -20, -10, 0, 10], "offset": -17, "labels": false, "title": null}}
      },
      "layer": [
        {"data": {"name": "grid"}, "mark": {"type": "square", "size": 52, "opacity": 1},
         "encoding": {"color": {"field": "f", "type": "nominal", "legend": null}}},
        {"data": {"name": "vivo"}, "mark": {"type": "point", "shape": "M-1,-1L1,1M1,-1L-1,1", "size": 210, "strokeWidth": 3, "filled": false, "opacity": 1},
         "encoding": {"color": {"field": "s", "type": "nominal", "legend": null}}}
      ]
    },
    {
      "width": 239, "height": 189,
      "encoding": {
        "x": {"field": "x", "type": "quantitative", "scale": {"domain": [-60, 10]}, "axis": {"values": [-60, -50, -40, -30, -20, -10, 0, 10], "labelOverlap": false, "labelFlush": false, "labelPadding": 5, "title": null}},
        "y": {"field": "y", "type": "quantitative", "scale": {"domain": [-100, 10]}, "axis": {"values": [-90, -80, -70, -60, -50, -40, -30, -20, -10, 0, 10], "offset": -17, "labels": false, "title": null}}
      },
      "layer": [
        {"data": {"name": "grid"}, "mark": {"type": "square", "size": 52, "opacity": 1},
         "encoding": {"color": {"field": "g", "type": "nominal", "legend": null}}},
        {"data": {"name": "vivo"}, "mark": {"type": "point", "shape": "M-1,-1L1,1M1,-1L-1,1", "size": 210, "strokeWidth": 3, "filled": false, "opacity": 1},
         "encoding": {"color": {"field": "s", "type": "nominal", "legend": null}}}
      ]
    },
    {
      "width": 239, "height": 189,
      "layer": [
        {
          "encoding": {
            "x": {"field": "x", "type": "quantitative", "scale": {"domain": [-60, 10]}, "axis": {"values": [-60, -50, -40, -30, -20, -10, 0, 10], "labelOverlap": false, "labelFlush": false, "labelPadding": 5, "title": null}},
            "y": {"field": "y", "type": "quantitative", "scale": {"domain": [-100, 10]}, "axis": {"values": [-90, -80, -70, -60, -50, -40, -30, -20, -10, 0, 10], "offset": -17, "labels": false, "title": null}}
          },
          "layer": [
            {"data": {"name": "grid"}, "mark": {"type": "square", "size": 52, "opacity": 1},
             "encoding": {"color": {"field": "h", "type": "nominal", "legend": null}}},
            {"data": {"name": "vivo"}, "mark": {"type": "point", "shape": "M-1,-1L1,1M1,-1L-1,1", "size": 210, "strokeWidth": 3, "filled": false, "opacity": 1},
             "encoding": {"color": {"field": "s", "type": "nominal", "legend": null}}}
          ]
        },
        {"data": {"values": [{"t": ["Slow", "τ inactivation"]}]}, "mark": {"type": "text", "font": "Liberation Serif", "fontSize": 18, "align": "left", "baseline": "middle", "lineHeight": 29, "color": "black"},
         "encoding": {
           "x": {"datum": 12, "type": "quantitative", "scale": {"domain": [-60, 10]}, "axis": {"values": [-60, -50, -40, -30, -20, -10, 0, 10], "labelOverlap": false, "labelFlush": false, "labelPadding": 5, "title": null}},
           "y": {"datum": -47, "type": "quantitative", "scale": {"domain": [-100, 10]}, "axis": {"values": [-90, -80, -70, -60, -50, -40, -30, -20, -10, 0, 10], "offset": -17, "labels": false, "title": null}},
           "text": {"field": "t", "type": "nominal"}}}
      ]
    }
  ],
  "config": {
    "view": {"stroke": null},
    "font": "Liberation Serif",
    "axis": {"labelFont": "Liberation Serif", "labelFontSize": 18, "labelColor": "black", "domainColor": "black", "tickColor": "black", "domainWidth": 2, "tickWidth": 2, "tickSize": 6, "grid": false, "labelPadding": 2, "labelFlush": false, "titleFont": "Liberation Serif", "titleFontSize": 18, "titleFontWeight": "normal", "titleColor": "black"},
    "title": {"font": "Liberation Serif", "fontSize": 18, "fontWeight": "normal", "color": "black"}
  }
}
